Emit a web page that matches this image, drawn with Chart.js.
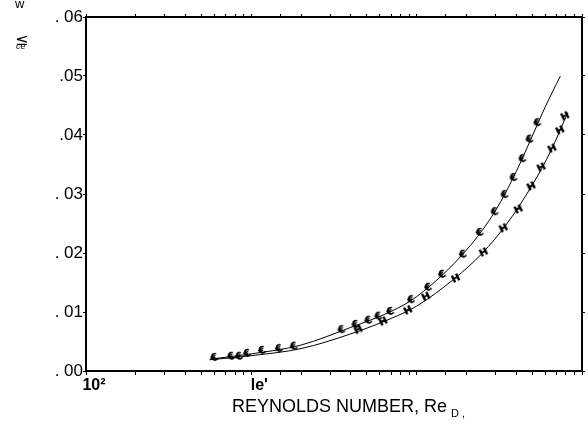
<!DOCTYPE html>
<html><head><meta charset="utf-8">
<script src="https://cdn.jsdelivr.net/npm/chart.js@4.4.1/dist/chart.umd.min.js"></script>
<style>html,body{margin:0;padding:0;background:#fff}</style>
</head><body>
<canvas id="c" width="588" height="424" style="width:588px;height:424px"></canvas>
<script>
// ---- data ----
const upperRe = [597, 755, 843, 942, 1160, 1468, 1806, 3510, 4263, 5103, 5861, 6921, 9250, 11720, 14220, 19010, 24050, 29600, 34000, 38500, 43600, 48100, 53700];
const upperCf = [0.0022, 0.0024, 0.0024, 0.0029, 0.0034, 0.0037, 0.0041, 0.0069, 0.0078, 0.0085, 0.0092, 0.0100, 0.0120, 0.0141, 0.0163, 0.0197, 0.0234, 0.0269, 0.0298, 0.0327, 0.0359, 0.0392, 0.0420];
const lowerRe = [4443, 6281, 8876, 11400, 17260, 25420, 33540, 41300, 49400, 56800, 66100, 73800, 79100];
const lowerCf = [0.0069, 0.0083, 0.0102, 0.0125, 0.0156, 0.0200, 0.0241, 0.0273, 0.0312, 0.0344, 0.0376, 0.0407, 0.0431];
const upperCurveRe = [560, 1000, 2000, 4000, 7000, 10000, 20000, 30000, 40000, 50000, 60000, 74000];
const upperCurveCf = [0.0020, 0.0029, 0.0044, 0.0074, 0.0101, 0.0126, 0.0205, 0.0272, 0.0338, 0.0398, 0.0448, 0.0500];
const lowerCurveRe = [560, 1000, 2000, 4000, 7000, 10000, 17000, 25000, 35000, 50000, 65000, 82000];
const lowerCurveCf = [0.0019, 0.0026, 0.0038, 0.0063, 0.0089, 0.0110, 0.0157, 0.0200, 0.0249, 0.0315, 0.0374, 0.0438];
const xTickValues = [100, 1000];
const xTickLabels = ['10²', "le'"];
const yTickValues = [0, 0.01, 0.02, 0.03, 0.04, 0.05, 0.06];
const yTickLabels = ['. 00', '. 01', '. 02', '. 03', '.04', '.05', '. 06'];
const xTitle = 'REYNOLDS NUMBER, Re';
const xTitleSub = 'D ,';

const pts = (xs, ys) => xs.map((x, i) => ({x: x, y: ys[i]}));

function glyph(txt, rot, size) {
  const c = document.createElement('canvas');
  c.width = 14; c.height = 14;
  const g = c.getContext('2d');
  g.translate(7, 7); g.rotate(rot);
  g.font = 'bold ' + size + 'px "DejaVu Sans"';
  g.textAlign = 'center'; g.textBaseline = 'middle';
  g.fillStyle = '#000';
  g.fillText(txt, 0, 0);
  g.fillText(txt, 0.5, 0);
  return c;
}
const upperMark = glyph('€', -0.35, 10);
const lowerMark = glyph('H', -0.45, 10);

const FONT = '"Liberation Sans", Arial, sans-serif';

const decor = {
  id: 'decor',
  afterDraw(chart) {
    const ctx = chart.ctx;
    ctx.save();
    ctx.fillStyle = '#000';
    ctx.textBaseline = 'alphabetic';
    ctx.textAlign = 'left';
    ctx.font = '13px ' + FONT;
    ctx.fillText('w', 15, 8);
    ctx.font = '16px "DejaVu Sans"';
    ctx.fillText('≤', 15, 45);
    ctx.font = 'italic 9px ' + FONT;
    ctx.fillText('ce', 16, 49);
    // x title
    ctx.font = '18px ' + FONT;
    const w = ctx.measureText(xTitle).width;
    ctx.fillText(xTitle, 232, 412);
    ctx.font = '11px ' + FONT;
    ctx.fillText(xTitleSub, 232 + w + 4, 417);
    ctx.restore();
  }
};

new Chart(document.getElementById('c'), {
  type: 'scatter',
  data: {
    datasets: [
      {data: pts(upperCurveRe, upperCurveCf), showLine: true, borderColor: '#000', borderWidth: 1, pointRadius: 0, cubicInterpolationMode: 'monotone', fill: false},
      {data: pts(lowerCurveRe, lowerCurveCf), showLine: true, borderColor: '#000', borderWidth: 1, pointRadius: 0, cubicInterpolationMode: 'monotone', fill: false},
      {data: pts(upperRe, upperCf), showLine: false, pointStyle: upperMark, pointRadius: 5},
      {data: pts(lowerRe, lowerCf), showLine: false, pointStyle: lowerMark, pointRadius: 5}
    ]
  },
  options: {
    responsive: false,
    animation: false,
    devicePixelRatio: 1,
    layout: {padding: 0},
    plugins: {legend: {display: false}, tooltip: {enabled: false}},
    scales: {
      x: {
        type: 'logarithmic', position: 'bottom', min: 100, max: 100000,
        afterFit: s => { s.height = 53; },
        border: {display: true, color: '#000', width: 2},
        grid: {drawOnChartArea: false, drawTicks: true, tickLength: 4, color: '#000', lineWidth: 1},
        ticks: {
          autoSkip: false, maxRotation: 0, minRotation: 0, padding: 1, labelOffset: 8,
          color: '#000', font: {family: FONT, size: 16, weight: 'bold'},
          callback: v => { const i = xTickValues.indexOf(v); return i >= 0 ? xTickLabels[i] : ''; }
        }
      },
      x2: {
        type: 'logarithmic', position: 'top', min: 100, max: 100000,
        afterFit: s => { s.height = 17; },
        border: {display: true, color: '#000', width: 2},
        grid: {drawOnChartArea: false, drawTicks: true, tickLength: 3, color: '#000'},
        ticks: {display: false, autoSkip: false}
      },
      y: {
        type: 'linear', position: 'left', min: 0, max: 0.06,
        afterFit: s => { s.width = 86; },
        afterBuildTicks: s => { s.ticks = yTickValues.map(v => ({value: v})); },
        border: {display: true, color: '#000', width: 2},
        grid: {drawOnChartArea: false, drawTicks: true, tickLength: 3, color: '#000'},
        ticks: {
          padding: 0, color: '#000', font: {family: FONT, size: 17},
          callback: v => { const i = yTickValues.findIndex(t => Math.abs(t - v) < 1e-9); return i >= 0 ? yTickLabels[i] : ''; }
        }
      },
      y2: {
        type: 'linear', position: 'right', min: 0, max: 0.06,
        afterFit: s => { s.width = 3; },
        afterBuildTicks: s => { s.ticks = yTickValues.map(v => ({value: v})); },
        border: {display: true, color: '#000', width: 2},
        grid: {drawOnChartArea: false, drawTicks: true, tickLength: 3, color: '#000'},
        ticks: {display: false}
      }
    }
  },
  plugins: [decor]
});
</script>
</body></html>
